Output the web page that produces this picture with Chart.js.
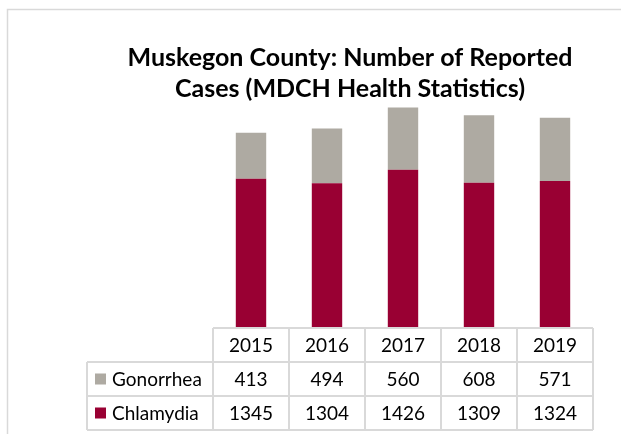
<!DOCTYPE html>
<html>
<head>
<meta charset="utf-8">
<script src="https://cdn.jsdelivr.net/npm/chart.js@4"></script>
<style>
  body { margin: 0; background: #fff; }
  canvas { display: block; }
</style>
</head>
<body>
<canvas id="mycanvas" width="621" height="434"></canvas>
<script>
// data
var years = ['2015', '2016', '2017', '2018', '2019'];
var chlamydia = [1345, 1304, 1426, 1309, 1324];
var gonorrhea = [413, 494, 560, 608, 571];
var titleLines = ['Muskegon County: Number of Reported', 'Cases (MDCH Health Statistics)'];

var chlamColor = '#990033';
var gonoColor = '#aeaaa2';
var lineColor = '#d9d9d9';

// title, frame and data table underneath the bars
var tablePlugin = {
	id: 'tablePlugin',
	afterDraw: function(chart) {
		var ctx = chart.ctx;
		var x = chart.scales.x;
		var area = chart.chartArea;
		var half = (x.getPixelForValue(1) - x.getPixelForValue(0)) / 2;
		var left = x.getPixelForValue(0) - half;
		var right = x.getPixelForValue(years.length - 1) + half;
		var top = area.bottom;
		var rowH = 34;
		var legLeft = 87;

		ctx.save();

		// outer frame
		ctx.strokeStyle = lineColor;
		ctx.lineWidth = 1.5;
		ctx.beginPath();
		ctx.moveTo(7.5, 434);
		ctx.lineTo(7.5, 9.5);
		ctx.lineTo(621, 9.5);
		ctx.stroke();

		// title
		ctx.fillStyle = '#000';
		ctx.font = 'bold 25px Lato';
		ctx.textAlign = 'center';
		ctx.textBaseline = 'alphabetic';
		ctx.fillText(titleLines[0], 350, 66);
		ctx.fillText(titleLines[1], 350, 97);

		// grid
		ctx.lineWidth = 2;
		ctx.beginPath();
		ctx.moveTo(left, top); ctx.lineTo(right, top);
		ctx.moveTo(legLeft, top + rowH); ctx.lineTo(right, top + rowH);
		ctx.moveTo(legLeft, top + 2 * rowH); ctx.lineTo(right, top + 2 * rowH);
		ctx.moveTo(legLeft, top + 3 * rowH); ctx.lineTo(right, top + 3 * rowH);
		ctx.moveTo(legLeft, top + rowH); ctx.lineTo(legLeft, top + 3 * rowH);
		for (var i = 0; i <= years.length; i++) {
			var gx = left + i * 2 * half;
			ctx.moveTo(gx, top); ctx.lineTo(gx, top + 3 * rowH);
		}
		ctx.stroke();

		// cells
		ctx.font = '19px Lato';
		ctx.fillStyle = '#000';
		ctx.textBaseline = 'middle';
		for (var i = 0; i < years.length; i++) {
			var cx = x.getPixelForValue(i);
			ctx.textAlign = 'center';
			ctx.fillText(years[i], cx, top + rowH / 2 + 1);
			ctx.fillText(String(gonorrhea[i]), cx, top + rowH * 1.5 + 1);
			ctx.fillText(String(chlamydia[i]), cx, top + rowH * 2.5 + 1);
		}

		// legend keys
		var rows = [['Gonorrhea', gonoColor], ['Chlamydia', chlamColor]];
		for (var r = 0; r < rows.length; r++) {
			var cy = top + rowH * (1.5 + r);
			ctx.fillStyle = rows[r][1];
			ctx.fillRect(95, cy - 5.5, 11, 11);
			ctx.fillStyle = '#000';
			ctx.textAlign = 'left';
			ctx.fillText(rows[r][0], 112, cy + 1);
		}

		ctx.restore();
	}
};

var chartdata = {
	labels: years,
	datasets: [
		{
			label: 'Chlamydia',
			backgroundColor: chlamColor,
			data: chlamydia
		},
		{
			label: 'Gonorrhea',
			backgroundColor: gonoColor,
			data: gonorrhea
		}
	]
};

var ctx = document.getElementById('mycanvas');
var barGraph = new Chart(ctx, {
	type: 'bar',
	data: chartdata,
	options: {
		responsive: false,
		animation: false,
		layout: {
			padding: { left: 213, right: 28, top: 106, bottom: 106 }
		},
		datasets: {
			bar: { barPercentage: 0.4, categoryPercentage: 1 }
		},
		scales: {
			x: { stacked: true, display: false },
			y: { stacked: true, display: false, min: 0, max: 2000 }
		},
		plugins: {
			legend: { display: false },
			tooltip: { enabled: false }
		}
	},
	plugins: [tablePlugin]
});
</script>
</body>
</html>
